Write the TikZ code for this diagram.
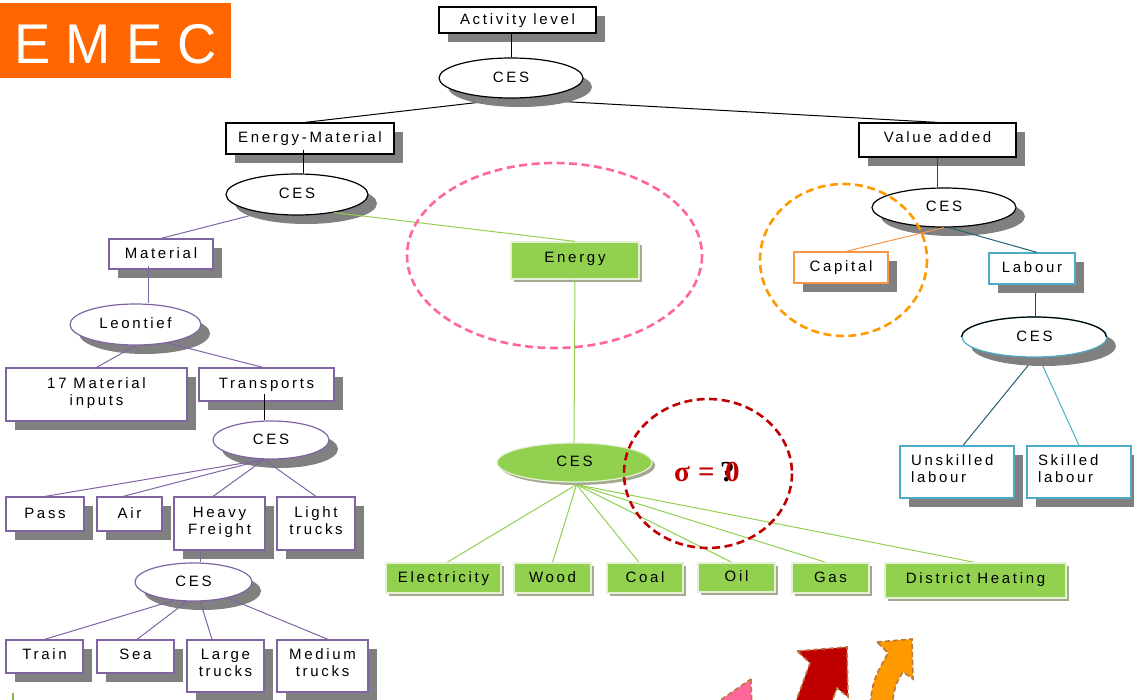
\documentclass[tikz,border=0pt]{standalone}
\usepackage{fontspec}
\setmainfont{Liberation Sans}[LetterSpace=18]
\newfontfamily\titlefont{Liberation Sans}[FakeStretch=0.97]
\newfontfamily\sigmafont{Liberation Serif}
\usetikzlibrary{shapes.geometric,shadows}

\definecolor{emecorange}{HTML}{FF6600}
\definecolor{shadowgray}{HTML}{808080}
\definecolor{purp}{HTML}{8064A2}
\definecolor{leaf}{HTML}{92D050}
\definecolor{leafshadow}{HTML}{A5AA8E}
\definecolor{leafrim}{HTML}{E4F1D6}
\definecolor{capor}{HTML}{F79646}
\definecolor{labblue}{HTML}{4BACC6}
\definecolor{labdark}{HTML}{1F6272}
\definecolor{stemgray}{HTML}{404040}
\definecolor{pinkring}{HTML}{FF6699}
\definecolor{orangering}{HTML}{FF9900}
\definecolor{redring}{HTML}{C00000}
\definecolor{arrowrim}{HTML}{B8783E}
\definecolor{tickgreen}{HTML}{8DB14F}

\pgfdeclarelayer{back}
\pgfsetlayers{back,main}

\tikzset{
  wh/.style 2 args={minimum width=#1pt, minimum height=#2pt},
  lbl/.style={font=\fontsize{15}{17}\selectfont, inner sep=0pt, text height=11pt, text depth=3pt},
  lbltwo/.style={font=\fontsize{15}{17}\selectfont, inner sep=0pt, text height=28pt, text depth=7pt},
  lblwide/.style={font=\fontsize{15}{17}\selectfont, inner sep=0pt, text height=11pt, text depth=24pt, align=left},
  gshadow/.style={drop shadow={shadow xshift=9pt, shadow yshift=-9pt, fill=shadowgray, opacity=1}},
  lshadow/.style={drop shadow={shadow xshift=3pt, shadow yshift=-3pt, fill=leafshadow, opacity=1}},
  box/.style={rectangle, draw=#1, fill=white, line width=1.2pt, gshadow},
  box/.default=black,
  oval/.style={ellipse, draw=#1, fill=white, line width=1.2pt, gshadow},
  oval/.default=black,
  greenbox/.style={rectangle, draw=leafrim, fill=leaf, line width=1.2pt, lshadow},
  greenoval/.style={ellipse, draw=leafrim, fill=leaf, line width=1.2pt, lshadow},
  conn/.style={draw=#1, line width=1pt},
  conn/.default=black,
  ring/.style={draw=#1, line width=2.6pt, dash pattern=on 8pt off 4.5pt},
  bigarrow/.style={fill=#1, draw=arrowrim, line width=1.6pt, dash pattern=on 5pt off 3pt},
  sigmatext/.style={anchor=base west, inner sep=0pt, text=#1,
      font=\sigmafont\bfseries\fontsize{29}{31}\selectfont},
}

\begin{document}
\begin{tikzpicture}[x=1pt, y=-1pt]
\useasboundingbox (0,0) rectangle (1134,699);

% title block
\node[fill=emecorange, anchor=north west, inner sep=0pt, minimum width=231pt, minimum height=75pt,
      text=white, font=\titlefont\fontsize{56}{60}\selectfont, text height=45pt, text depth=0pt]
      (title) at (0,3) {E M E C};

% top of the tree
\node[box, wh={157}{26}, lbl] (act) at (517.5,20) {Activity level};
\node[oval, wh={144}{40}, lbl] (ces1) at (511,78) {CES};
\node[box, wh={168}{31}, lbl] (em) at (310,138.5) {Energy-Material};
\node[oval, wh={142}{41}, lbl] (ces2) at (297,194.5) {CES};

% value added branch
\node[box, wh={157}{34}, lbl, text depth=6pt] (va) at (937.5,140) {Value added};
\node[oval, wh={144}{39}, lbl] (cesv) at (944,207.5) {CES};
\node[box=capor, wh={94}{31}, lbl] (cap) at (841,267.5) {Capital};
\node[box=labblue, wh={86}{31}, lbl] (lab) at (1032,268.5) {Labour};
\node[oval=labblue, wh={145}{40}, lbl] (cesl) at (1034.5,337) {CES};
\draw[line width=1.2pt] (cesl.west) arc[start angle=180, end angle=360, x radius=72.5, y radius=20];
\node[box=labblue, wh={114}{52}, lblwide, text width=92pt] (un) at (957,472) {Unskilled\\labour};
\node[box=labblue, wh={104}{52}, lblwide, text width=82pt] (sk) at (1079,472) {Skilled\\labour};

% material branch
\node[box=purp, wh={104}{30}, lbl] (mat) at (161,254) {Material};
\node[oval=purp, wh={131}{41}, lbl] (leon) at (135.5,324.5) {Leontief};
\node[box=purp, wh={181}{53}, lbltwo, align=center] (mi) at (96.5,394.5) {17 Material\\inputs};
\node[box=purp, wh={135}{33}, lbl] (tr) at (266.5,384.5) {Transports};
\node[oval=purp, wh={116}{38}, lbl] (ces3) at (271,440) {CES};
\node[box=purp, wh={78}{34}, lbl] (pass) at (45,514) {Pass};
\node[box=purp, wh={65}{34}, lbl] (air) at (129.5,514) {Air};
\node[box=purp, wh={91}{53}, lbltwo, align=center] (hf) at (219.5,523.5) {Heavy\\Freight};
\node[box=purp, wh={78}{53}, lbltwo, align=center] (lt) at (316,523.5) {Light\\trucks};
\node[oval=purp, wh={117}{38}, lbl] (ces4) at (193.5,582) {CES};
\node[box=purp, wh={77}{33}, lbl, text depth=5pt] (train) at (44.5,656.5) {Train};
\node[box=purp, wh={77}{33}, lbl, text depth=5pt] (sea) at (135.5,656.5) {Sea};
\node[box=purp, wh={77}{52}, lbltwo, align=center] (lg) at (225.5,666) {Large\\trucks};
\node[box=purp, wh={91}{52}, lbltwo, align=center] (md) at (322.5,666) {Medium\\trucks};

% energy branch
\node[greenbox, wh={128}{37}, lbl, text depth=8pt] (energy) at (575,260.5) {Energy};
\node[greenoval, wh={155}{39}, lbl] (cesg) at (574.5,462.5) {CES};
\node[greenbox, wh={115}{30}, lbl] (elec) at (443.5,578) {Electricity};
\node[greenbox, wh={77}{30}, lbl] (wood) at (552.5,578) {Wood};
\node[greenbox, wh={76}{30}, lbl] (coal) at (645,578) {Coal};
\node[greenbox, wh={77}{29}, lbl] (oil) at (736.5,577.5) {Oil};
\node[greenbox, wh={77}{30}, lbl] (gas) at (830.5,578) {Gas};
\node[greenbox, wh={181}{35}, lbl, text depth=5pt] (dh) at (975.5,580.5) {District Heating};

% connectors running underneath the shadows
\begin{pgfonlayer}{back}
  \draw[conn] (ces1.south) -- ([xshift=-5pt]em.north);
  \draw[conn] (ces1.south) -- (va.north);
  \draw[conn=purp] ([yshift=-9pt]ces2.center) -- (mat.north);
  \draw[conn=stemgray] ([xshift=3pt]lab.south) -- ([xshift=0.5pt]cesl.north);
  \draw[conn=labdark] (cesl.south) -- ([xshift=6pt]un.north);
  \draw[conn=labblue] ([xshift=4.5pt]cesl.south) -- (sk.north);
  \foreach \leafnode/\dx in {elec/3.5, wood/0, coal/-6, oil/-4.5, gas/-4.5, dh/-0.5}
    \draw[conn=leaf] ([xshift=2pt,yshift=-2pt]cesg.south) -- ([xshift=\dx pt]\leafnode.north);
\end{pgfonlayer}

% connectors drawn over the shadows
\draw[conn] ([xshift=-6.5pt]act.south) -- (ces1.north);
\draw[conn] ([xshift=-7pt,yshift=5pt]em.south) -- ([xshift=6pt]ces2.north);
\draw[conn=leaf] (ces2.-26) -- (energy.north);
\draw[conn=leaf] (energy.south) -- ([xshift=-0.5pt]cesg.north);
\draw[conn=stemgray] (va.south) -- ([xshift=-6.5pt]cesv.north);
\draw[conn=capor] (cesv.south) -- ([xshift=5pt]cap.north);
\draw[conn=labdark] ([xshift=5pt]cesv.south) -- ([xshift=5pt]lab.north);
\draw[conn=purp] ([xshift=-13pt,yshift=4pt]mat.south) -- ([xshift=12.5pt]leon.north);
\draw[conn=purp] (leon.south) -- (mi.north);
\draw[conn=purp] (leon.-30) -- ([xshift=-3.5pt]tr.north);
\draw[conn] ([xshift=-2.5pt,yshift=8pt]tr.south) -- ([xshift=-7pt]ces3.north);
\draw[conn=purp] ([xshift=-7pt]ces3.south) -- (pass.north);
\draw[conn=purp] ([xshift=-7pt]ces3.south) -- ([xshift=-6.5pt]air.north);
\draw[conn=purp] ([xshift=-7pt]ces3.south) -- ([xshift=-6.5pt]hf.north);
\draw[conn=purp] ([xshift=-7pt]ces3.south) -- (lt.north);
\draw[conn=purp] ([xshift=-19.5pt]hf.south) -- ([xshift=6.5pt]ces4.north);
\draw[conn=purp] (ces4.-137) -- (train.north);
\draw[conn=purp] (ces4.-109) -- ([xshift=1.5pt]sea.north);
\draw[conn=purp] (ces4.-71) -- ([xshift=-13.5pt]lg.north);
\draw[conn=purp] (ces4.-25) -- ([xshift=5.5pt]md.north);

% dashed highlight rings
\draw[ring=pinkring] (554.5,255.5) ellipse [x radius=147.5, y radius=92.5];
\draw[ring=orangering] (843.5,260) ellipse [x radius=83.5, y radius=76];
\draw[ring=redring] (708,473.5) ellipse [x radius=84, y radius=74.5];

% elasticity label: a black question mark partly covered by the red zero
\node[sigmatext=redring] (sigma) at (674,481) {σ};
\node[sigmatext=redring] (equals) at (698,481) {=};
\node[sigmatext=black] (qmark) at (720,481) {?};
\node[sigmatext=redring] (zero) at (725,481) {0};

% arrows entering from the lower edge
\draw[bigarrow=pinkring] (751,679) -- (752,712) -- (703,712) -- cycle;
\draw[bigarrow=redring] (797,651) -- (847,647) -- (848,697) -- (837,688) -- (828,712)
      -- (792,712) -- (810,663) -- cycle;
\draw[bigarrow=orangering] (877,642) -- (912,639) -- (913,679) -- (903,672)
      .. controls (895,685) .. (891,712) -- (869,712) .. controls (873,680) .. (888,653) -- cycle;

% small mark at the lower left
\draw[tickgreen, line width=2pt] (13,693) -- (13,702);
\end{tikzpicture}
\end{document}
